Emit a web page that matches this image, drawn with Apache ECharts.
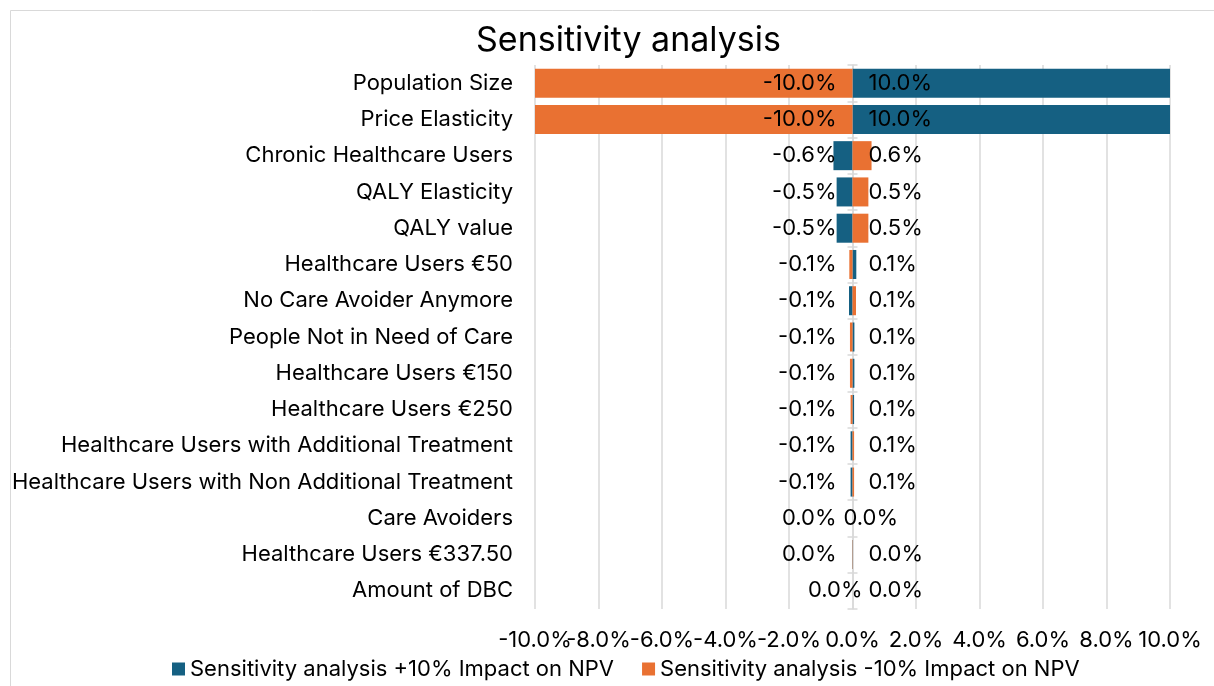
<!DOCTYPE html>
<html>
<head>
<meta charset="utf-8">
<script src="https://cdn.jsdelivr.net/npm/echarts@6/dist/echarts.min.js"></script>
<style>html,body{margin:0;padding:0;background:#fff}#c{width:1214px;height:686px}</style>
</head>
<body>
<div id="c"></div>
<script>
var categories = ["Population Size","Price Elasticity","Chronic Healthcare Users","QALY Elasticity","QALY value","Healthcare Users €50","No Care Avoider Anymore","People Not in Need of Care","Healthcare Users €150","Healthcare Users €250","Healthcare Users with Additional Treatment","Healthcare Users with Non Additional Treatment","Care Avoiders","Healthcare Users €337.50","Amount of DBC"];
var plus10 = [10.0, 10.0, -0.6, -0.5, -0.5, 0.12, -0.11, 0.06, 0.06, 0.05, -0.06, -0.06, -0.0, -0.01, -0.0];
var minus10 = [-10.0, -10.0, 0.6, 0.5, 0.5, -0.1, 0.11, -0.08, -0.08, -0.06, 0.05, 0.05, 0.0, 0.01, 0.0];
var xTicks = [-10, -8, -6, -4, -2, 0, 2, 4, 6, 8, 10];
var seriesNames = ["Sensitivity analysis +10% Impact on NPV", "Sensitivity analysis -10% Impact on NPV"];

var FONT = "Inter";
var chart = echarts.init(document.getElementById('c'));

function mk(vals) {
  return vals.map(function (v, i) {
    var neg = (1 / v < 0) || v < 0; // -0 counts as negative side
    var lbl = { position: neg ? 'insideRight' : 'insideLeft', distance: 16 };
    // Excel's placement of some zero-value labels
    if (i === 12 && !neg) { lbl.distance = -9; }
    if (i === 14 && neg) { lbl.distance = -10; }
    return { value: v, label: lbl };
  });
}

var labelCommon = {
  show: true, color: '#000', fontFamily: FONT, fontSize: 22,
  formatter: function (p) { var v = p.value; var s = (Math.abs(v) < 0.05) ? '0.0' : v.toFixed(1); return s + '%'; }
};

// alternate tick labels between two overlaid axes so none get hidden by overlap checks
function tickFmt(parity) {
  return function (v) {
    var idx = xTicks.indexOf(Math.round(v * 1000) / 1000);
    if (idx < 0 || idx % 2 !== parity) return '';
    return xTicks[idx].toFixed(1) + '%';
  };
}
function xAxisDef(parity) {
  return {
    type: 'value', min: xTicks[0], max: xTicks[xTicks.length - 1], interval: 2, position: 'bottom', offset: 0,
    axisLine: { show: false, onZero: false }, axisTick: { show: false },
    axisLabel: { fontFamily: FONT, fontSize: 22, color: '#000', margin: 20, showMinLabel: true, showMaxLabel: true, hideOverlap: false,
      formatter: tickFmt(parity) },
    splitLine: { show: parity === 0, lineStyle: { color: '#d9d9d9', width: 1.5 } }
  };
}

chart.setOption({
  animation: false,
  backgroundColor: '#fff',
  graphic: [{ type: 'rect', shape: { x: 10.5, y: 10.5, width: 1300, height: 800 }, style: { fill: 'none', stroke: '#d9d9d9', lineWidth: 1 }, silent: true, z: -10 }],
  title: { text: 'Sensitivity analysis', left: 471, top: 19, textStyle: { fontFamily: FONT, fontSize: 34, fontWeight: 'normal', color: '#000' } },
  legend: {
    bottom: 1, left: 167, itemWidth: 13, itemHeight: 13, itemGap: 28,
    icon: 'rect',
    textStyle: { fontFamily: FONT, fontSize: 22, color: '#000' },
    data: seriesNames
  },
  grid: { left: 535, right: 44, top: 65, bottom: 77, containLabel: false },
  xAxis: [xAxisDef(0), xAxisDef(1)],
  yAxis: [
    { type: 'category', data: categories, inverse: true, position: 'left',
      axisLine: { show: false, onZero: false }, axisTick: { show: false },
      axisLabel: { fontFamily: FONT, fontSize: 22, color: '#000', margin: 22 } },
    { type: 'category', data: categories, inverse: true,
      axisLine: { show: true, onZero: true, onZeroAxisIndex: 0, lineStyle: { color: '#d9d9d9', width: 1.5 } },
      axisTick: { show: true, inside: false, length: 5, lineStyle: { color: '#d9d9d9', width: 1.5 } },
      axisLabel: { show: false } },
    { type: 'category', data: categories, inverse: true,
      axisLine: { show: false, onZero: true, onZeroAxisIndex: 0 },
      axisTick: { show: true, inside: true, length: 5, lineStyle: { color: '#d9d9d9', width: 1.5 } },
      axisLabel: { show: false } }
  ],
  series: [
    { name: seriesNames[0], type: 'bar', xAxisIndex: 0, yAxisIndex: 0, data: mk(plus10), barWidth: '80%', barGap: '-100%',
      itemStyle: { color: '#156082' }, label: labelCommon, z: 3 },
    { name: seriesNames[1], type: 'bar', xAxisIndex: 0, yAxisIndex: 0, data: mk(minus10), barWidth: '80%', barGap: '-100%',
      itemStyle: { color: '#E97132' }, label: labelCommon, z: 3 }
  ]
});
</script>
</body>
</html>
